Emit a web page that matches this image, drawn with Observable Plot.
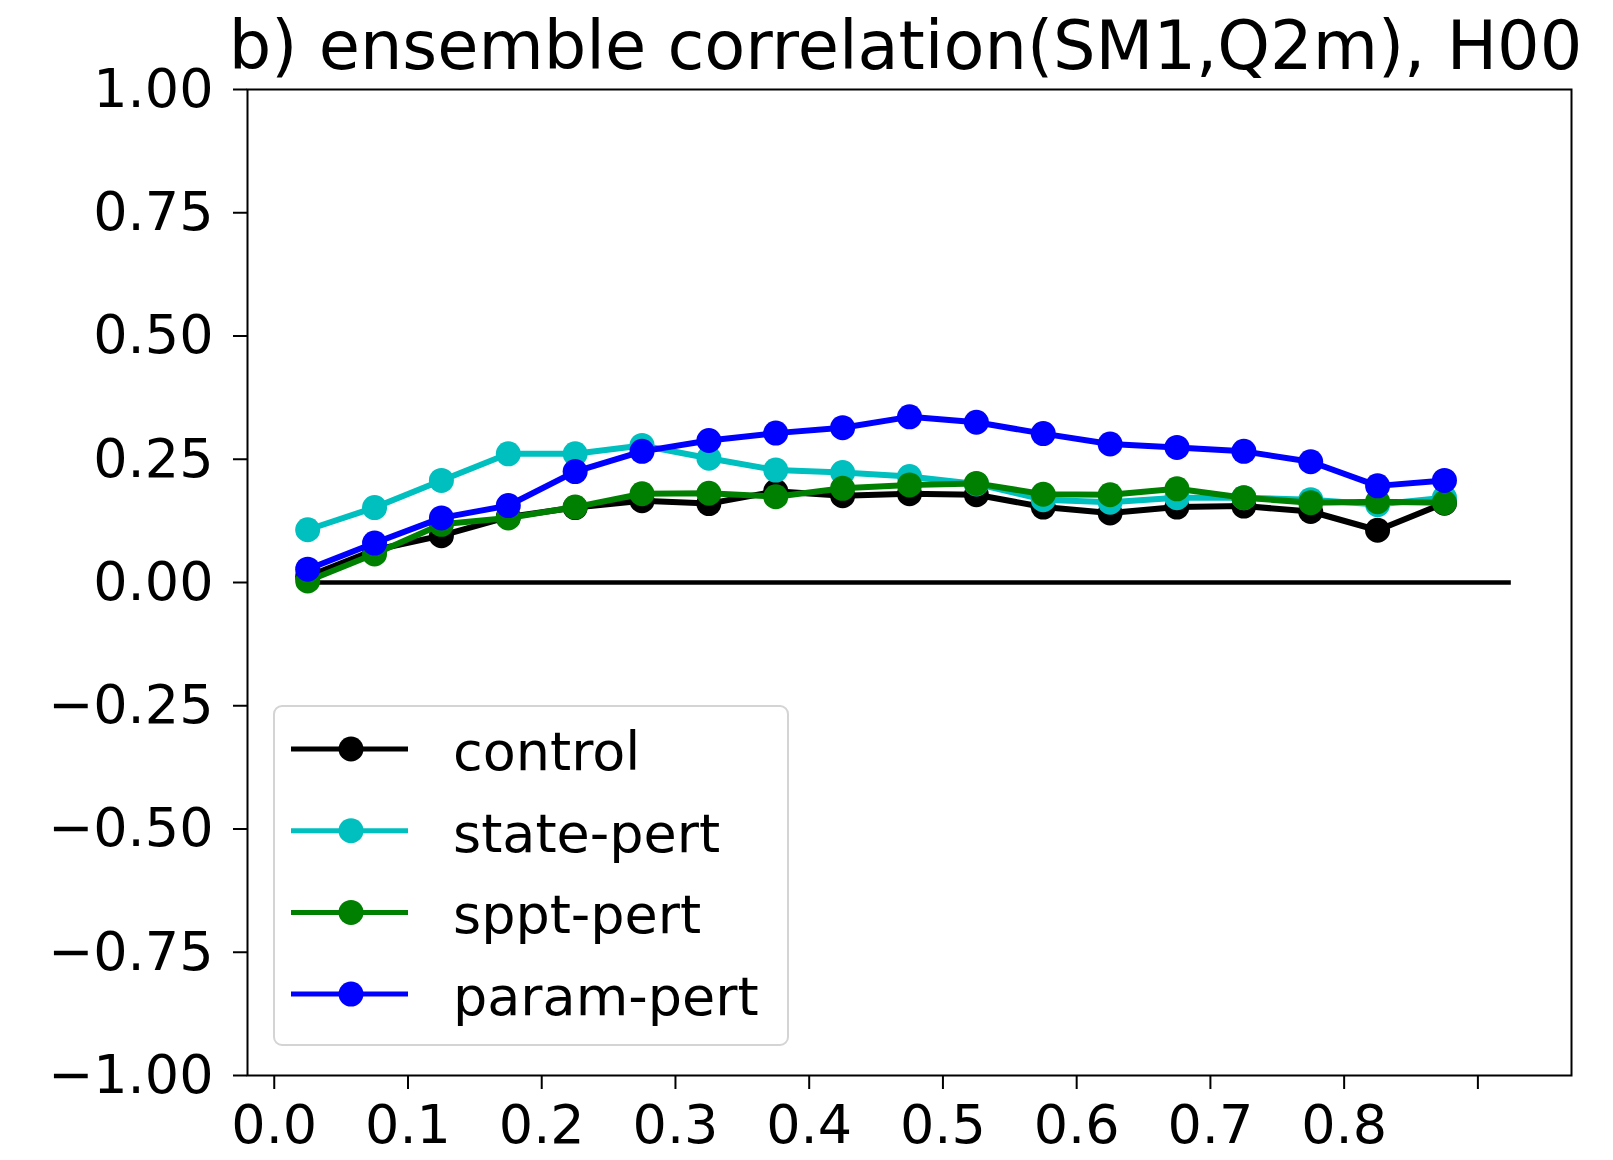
<!DOCTYPE html>
<html>
<head>
<meta charset="utf-8">
<script src="https://cdn.jsdelivr.net/npm/d3@7"></script>
<script src="https://cdn.jsdelivr.net/npm/@observablehq/plot@0.6"></script>
<style>
  html, body { margin: 0; padding: 0; background: white; }
  #chart { width: 1613px; height: 1160px; }
</style>
</head>
<body>
<div id="chart"></div>
<script>
// ---- data ----
const binCenters = [0.025, 0.075, 0.125, 0.175, 0.225, 0.275, 0.325, 0.375, 0.425, 0.475,
                    0.525, 0.575, 0.625, 0.675, 0.725, 0.775, 0.825, 0.875, 0.925];
const seriesNames = ["control", "state-pert", "sppt-pert", "param-pert"];
const seriesColors = ["#000000", "#00bfbf", "#008000", "#0000ff"];
const control   = [0.012, 0.066, 0.095, 0.133, 0.152, 0.166, 0.160, 0.185, 0.176, 0.180, 0.178, 0.153, 0.141, 0.153, 0.155, 0.144, 0.106, 0.161];
const statePert = [0.107, 0.152, 0.207, 0.261, 0.261, 0.278, 0.252, 0.228, 0.223, 0.215, 0.200, 0.168, 0.163, 0.172, 0.172, 0.168, 0.158, 0.172];
const spptPert  = [0.003, 0.058, 0.118, 0.131, 0.153, 0.180, 0.181, 0.174, 0.191, 0.198, 0.201, 0.179, 0.178, 0.190, 0.172, 0.162, 0.164, 0.162];
const paramPert = [0.027, 0.080, 0.131, 0.156, 0.225, 0.266, 0.288, 0.303, 0.314, 0.336, 0.325, 0.302, 0.281, 0.274, 0.266, 0.245, 0.196, 0.207];
const xTicks = [0.0, 0.1, 0.2, 0.3, 0.4, 0.5, 0.6, 0.7, 0.8, 0.9];
const xTickLabels = ["0.0", "0.1", "0.2", "0.3", "0.4", "0.5", "0.6", "0.7", "0.8", ""];
const yTicks = [-1.0, -0.75, -0.5, -0.25, 0.0, 0.25, 0.5, 0.75, 1.0];
const titleText = "b) ensemble correlation(SM1,Q2m), H00";

const allSeries = [control, statePert, spptPert, paramPert];
const rows = [];
allSeries.forEach((vals, si) => vals.forEach((v, i) => rows.push({x: binCenters[i], y: v, s: seriesNames[si]})));

const W = 1613, H = 1160;
const mL = 247, mR = 42, mT = 89, mB = 85;
const FS = 54;

const marks = [
  Plot.ruleY([0], {x1: binCenters[0], x2: binCenters[binCenters.length - 1], stroke: "black", strokeWidth: 4.5})
];
seriesNames.forEach((name, si) => {
  const d = rows.filter(r => r.s === name);
  marks.push(Plot.line(d, {x: "x", y: "y", stroke: seriesColors[si], strokeWidth: 6}));
  marks.push(Plot.dot(d, {x: "x", y: "y", r: 12.5, fill: seriesColors[si], stroke: "none"}));
});
marks.push(Plot.frame({stroke: "black", strokeWidth: 2}));
marks.push(Plot.axisY({ticks: yTicks, tickSize: 14, tickPadding: 20, strokeWidth: 2,
  tickFormat: d => d3.format(".2f")(d), fontSize: FS}));
marks.push(Plot.axisX({ticks: xTicks, tickSize: 14, tickPadding: 15, strokeWidth: 2,
  tickFormat: d => xTickLabels[xTicks.findIndex(t => Math.abs(t - d) < 1e-9)], fontSize: FS}));
marks.push(Plot.text([titleText], {frameAnchor: "top", lineAnchor: "bottom", dy: -21, dx: -4,
  fontSize: 67, fill: "black"}));

const chart = Plot.plot({
  width: W, height: H,
  marginLeft: mL, marginRight: mR, marginTop: mT, marginBottom: mB,
  style: {fontFamily: "DejaVu Sans", background: "white", color: "black"},
  x: {domain: [-0.02, 0.97], label: null},
  y: {domain: [-1, 1], label: null},
  marks
});
document.getElementById("chart").appendChild(chart);

// ---- legend (drawn into the plot's svg, lower-left of the frame) ----
const svg = d3.select(chart);
const boxX = mL + 27, boxY = H - mB - 30 - 339, boxW = 514, boxH = 339;
const g = svg.append("g");
g.append("rect").attr("x", boxX).attr("y", boxY).attr("width", boxW).attr("height", boxH)
  .attr("rx", 8).attr("fill", "white").attr("fill-opacity", 0.8)
  .attr("stroke", "#d4d4d4").attr("stroke-width", 2);
seriesNames.forEach((name, i) => {
  const cy = boxY + 43 + i * 81.7;
  g.append("line").attr("x1", boxX + 17).attr("x2", boxX + 134).attr("y1", cy).attr("y2", cy)
    .attr("stroke", seriesColors[i]).attr("stroke-width", 5);
  g.append("circle").attr("cx", boxX + 77).attr("cy", cy).attr("r", 12.5).attr("fill", seriesColors[i]);
  g.append("text").attr("x", boxX + 179).attr("y", cy + 21).attr("font-size", FS)
    .attr("text-anchor", "start")
    .attr("font-family", "DejaVu Sans").attr("fill", "black").text(name);
});
</script>
</body>
</html>
